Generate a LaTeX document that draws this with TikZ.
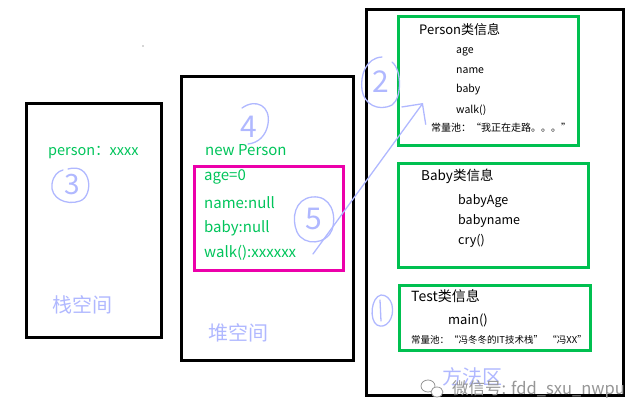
\documentclass[tikz,border=0pt]{standalone}
\usepackage{fontspec}
\setmainfont{Noto Sans CJK SC}
\usetikzlibrary{arrows.meta}
\definecolor{txtgreen}{RGB}{0,196,90}
\definecolor{boxgreen}{RGB}{0,192,80}
\definecolor{boxpink}{RGB}{236,0,170}
\definecolor{handblue}{RGB}{176,184,255}
\definecolor{wmgrey}{RGB}{150,150,150}
\newcommand{\fs}[1]{\fontsize{#1}{#1}\selectfont}
\begin{document}
\begin{tikzpicture}[x=1pt,y=-1pt,
  area/.style={draw=black, line width=3pt, anchor=north west, inner sep=0, outer sep=0},
  clsbox/.style={draw=boxgreen, line width=3pt, anchor=north west, inner sep=0, outer sep=0},
  objbox/.style={draw=boxpink, line width=3pt, anchor=north west, inner sep=0, outer sep=0},
  gtext/.style={text=txtgreen, anchor=west, inner sep=0, font=\fs{15}},
  ctitle/.style={text=black, anchor=west, inner sep=0, font=\fs{13.5}},
  citem/.style={text=black, anchor=west, inner sep=0, font=\fs{12.5}},
  pool/.style={text=black, anchor=west, inner sep=0, font=\fs{9.5}},
  arealabel/.style={text=handblue, anchor=west, inner sep=0, font=\fs{20}},
  hand/.style={draw=handblue, line width=1.3pt, line cap=round, line join=round},
  handdigit/.style={text=handblue, inner sep=0, font=\fs{28}}
]
\useasboundingbox (0,0) rectangle (638,409);
% tiny dot
\fill[black!70] (143,46) circle (0.7pt);

% stack
\node[area, minimum width=135pt, minimum height=234pt] (stack) at (26.5,103.5) {};
\node[gtext, font=\fs{14.5}] (pvar) at (48,153) {person：xxxx};
\node[arealabel] (stacklbl) at (52,305) {栈空间};

% heap
\node[area, minimum width=172pt, minimum height=284pt] (heap) at (181.5,76.5) {};
\node[gtext] (newp) at (205,150) {new Person};
\node[objbox, minimum width=149pt, minimum height=104pt] (obj) at (194.5,166.5) {};
\node[gtext] (f1) at (204,177) {age=0};
\node[gtext] (f2) at (204,203) {name:null};
\node[gtext] (f3) at (204,228) {baby:null};
\node[gtext] (f4) at (204,253) {walk():xxxxxx};
\node[arealabel] (heaplbl) at (208,333) {堆空间};

% method area
\node[area, minimum width=257pt, minimum height=386pt] (method) at (366.5,9.5) {};
\node[clsbox, minimum width=180pt, minimum height=129pt] (pcls) at (398.5,16.5) {};
\node[ctitle, font=\fs{13}] (pt) at (419,30) {Person类信息};
\node[citem, font=\fs{10.5}] (p1) at (456,52) {age};
\node[citem, font=\fs{10.5}] (p2) at (456,71) {name};
\node[citem, font=\fs{10.5}] (p3) at (456,90) {baby};
\node[citem, font=\fs{10.5}] (p4) at (456,110) {walk()};
\node[pool, font=\fs{10}] (pp) at (431,128) {常量池：“我正在走路。。。”};

\node[clsbox, minimum width=190pt, minimum height=104pt] (bcls) at (398.5,163.5) {};
\node[ctitle] (bt) at (421,176) {Baby类信息};
\node[citem] (b1) at (458,201) {babyAge};
\node[citem] (b2) at (458,221) {babyname};
\node[citem] (b3) at (458,241) {cry()};

\node[clsbox, minimum width=191pt, minimum height=65pt] (tcls) at (399.5,285.5) {};
\node[ctitle, font=\fs{14}] (tt) at (411,296) {Test类信息};
\node[citem, font=\fs{13}] (t1) at (448,320) {main()};
\node[pool] (tp) at (411,340) {常量池：“冯冬冬的IT技术栈”\ \ “冯XX”};
\node[arealabel] (methodlbl) at (442,377) {方法区};

% hand-drawn step marks
\draw[hand] (68,169) .. controls (92,162) and (94,196) .. (80,201) .. controls (66,206) and (50,198) .. (52,184) .. controls (53,176) and (58,171) .. (63,170);
\node[handdigit] (d3) at (72,185) {3};
\draw[hand] (242,108) .. controls (256,98) and (271,106) .. (268,124) .. controls (266,136) and (258,143) .. (248,144);
\node[handdigit, font=\fs{30}] (d4) at (249,127) {4};
\draw[hand] (312,197) .. controls (331,195) and (337,215) .. (332,230) .. controls (327,244) and (304,247) .. (297,232) .. controls (291,218) and (295,199) .. (312,197);
\node[handdigit, font=\fs{30}] (d5) at (314,219) {5};
\draw[hand] (382,57) .. controls (366,58) and (360,75) .. (362,90) .. controls (364,104) and (378,112) .. (392,105) .. controls (402,98) and (402,70) .. (392,62);
\node[handdigit, font=\fs{30}] (d2) at (381,82) {2};
\draw[hand] (381,295) .. controls (371,297) and (369,320) .. (377,325) .. controls (386,330) and (395,318) .. (392,305) .. controls (390,298) and (386,295) .. (381,295);
\draw[hand] (380,300) -- (381,321);

% arrow from object to class info
\coordinate (a5) at (313,254);
\coordinate (a2) at (423,103);
\draw[hand, -{Straight Barb[length=15pt,width=30pt,line width=1.3pt]}] (a5) -- (a2);

% watermark
\draw[wmgrey, line width=0.8pt] (428,386) ellipse [x radius=7pt, y radius=6pt];
\draw[wmgrey, line width=0.8pt, fill=white] (437,392) ellipse [x radius=6pt, y radius=5pt];
\node[text=wmgrey, anchor=west, inner sep=0, font=\fs{16.5}] (wm) at (452,389) {微信号: fdd\_sxu\_nwpu};
\end{tikzpicture}
\end{document}
